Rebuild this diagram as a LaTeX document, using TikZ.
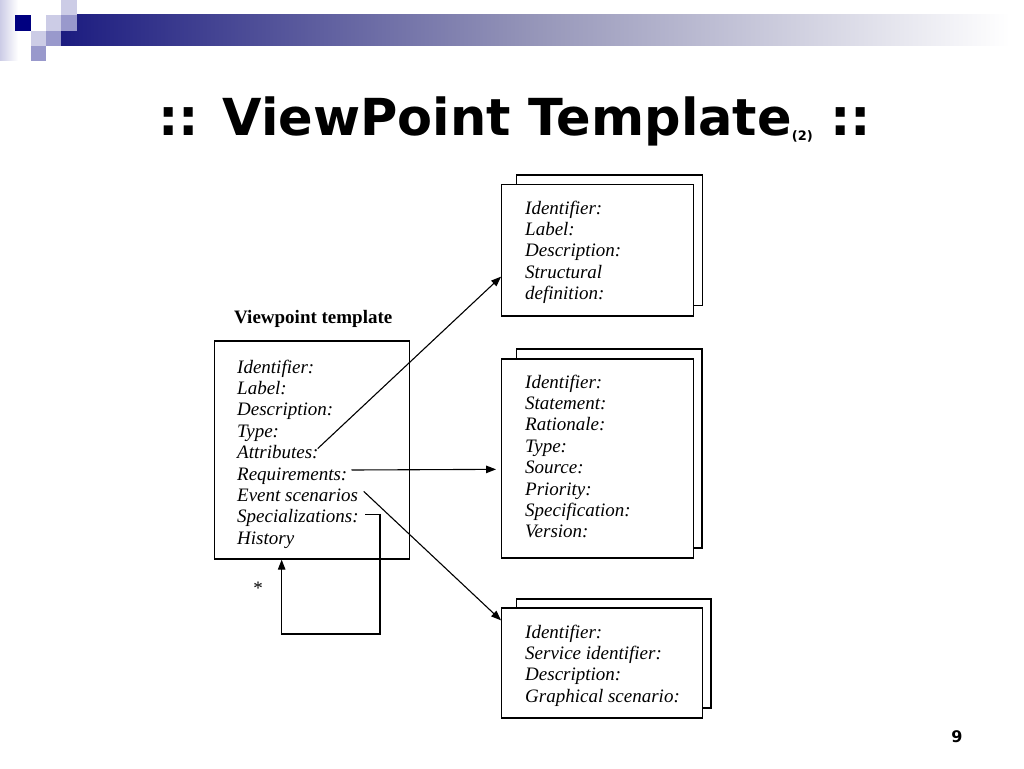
\documentclass[tikz,border=0pt]{standalone}
\usepackage{fontspec}
\setmainfont{Liberation Serif}
\newfontfamily\titlefont{DejaVu Sans}
\usetikzlibrary{arrows.meta,calc}
\definecolor{navy}{RGB}{0,0,128}
\definecolor{lav}{RGB}{204,204,230}
\definecolor{midlav}{RGB}{153,153,204}
\definecolor{barnavy}{RGB}{28,28,128}
\tikzset{
  box/.style={draw=black, line width=1.3pt, fill=white, inner sep=0pt},
  txt/.style={anchor=base west, inner sep=0pt, font=\fontsize{19}{21}\selectfont\itshape},
  arr/.style={line width=1.1pt, -{Triangle[length=10pt,width=7.5pt]}},
}
\begin{document}
\begin{tikzpicture}[x=1pt,y=-1pt]
\useasboundingbox (0,0) rectangle (1024,768);
\fill[white] (0,0) rectangle (1024,768);
% header decoration
\shade[left color=lav, right color=white] (0,0) rectangle (18,60);
\shade[left color=barnavy, right color=white, middle color={rgb,255:red,150;green,150;blue,185}] (61,15) rectangle (1010,45.7);
\fill[navy] (15,15) rectangle (30.7,30.7);
\fill[lav] (45.7,15) rectangle (61,30.7);
\fill[midlav] (61,15) rectangle (76.7,30.7);
\fill[lav] (61,0) rectangle (76.7,15);
\fill[lav] (30.7,30.7) rectangle (45.7,45.7);
\fill[midlav] (45.7,30.7) rectangle (61,45.7);
\fill[midlav] (30.7,45.7) rectangle (45.7,61);
% title
\node[anchor=base west, inner sep=0pt, font=\titlefont\bfseries\fontsize{51}{56}\selectfont] (title) at (158,135)
  {:: ViewPoint Template\raisebox{-5pt}{\fontsize{13}{14}\selectfont(2)} ::};
\node[anchor=base, inner sep=0pt, font=\titlefont\bfseries\fontsize{16}{18}\selectfont] (pnum) at (957,742) {9};
% left box
\node[anchor=base west, inner sep=0pt, font=\fontsize{19}{21}\selectfont\bfseries] (vpt) at (234,323) {Viewpoint template};
\node[box, minimum width=195pt, minimum height=218pt] (vp) at (311.8,450) {};
\foreach \t [count=\i] in {Identifier:, Label:, Description:, Type:, Attributes:, Requirements:, Event scenarios, Specializations:, History}
  \node[txt] (a\i) at (237,{373+(\i-1)*21.4}) {\t};
% box 1
\node[box, minimum width=186pt, minimum height=130.7pt] (b1) at (609.7,240.35) {};
\node[box, minimum width=192pt, minimum height=131.7pt] (f1) at (597.7,250.15) {};
\foreach \t [count=\i] in {Identifier:, Label:, Description:, Structural, definition:}
  \node[txt] (p\i) at (525,{214+(\i-1)*21.4}) {\t};
% box 2
\node[box, minimum width=185.3pt, minimum height=199pt] (b2) at (609.35,448.5) {};
\node[box, minimum width=192pt, minimum height=199pt] (f2) at (597.7,458.5) {};
\foreach \t [count=\i] in {Identifier:, Statement:, Rationale:, Type:, Source:, Priority:, Specification:, Version:}
  \node[txt] (q\i) at (525,{388+(\i-1)*21.4}) {\t};
% box 3
\node[box, minimum width=194.3pt, minimum height=109pt] (b3) at (613.85,653.5) {};
\node[box, minimum width=201pt, minimum height=110pt] (f3) at (602.2,663) {};
\foreach \t [count=\i] in {Identifier:, Service identifier:, Description:, Graphical scenario:}
  \node[txt] (r\i) at (525,{638+(\i-1)*21.4}) {\t};
% star
\node[anchor=base, inner sep=0pt, font=\fontsize{19}{21}\selectfont] (star) at (258,594) {*};
% connectors
\draw[arr] ($(a5.base east)+(-1,-10)$) -- ($(f1.north west)+(0,93)$);
\draw[arr] ($(a6.base east)+(4,-10)$) -- ($(f2.north west)+(-5,111)$);
\draw[arr] ($(a7.base east)+(5.5,-10)$) -- ($(f3.north west)+(0,13)$);
\coordinate (lpA) at ($(a8.base east)+(6.6,-8)$);
\coordinate (lpB) at (380,634);
\coordinate (lpC) at ($(vp.south west)+(68,0)$);
\draw[arr] (lpA) -| (lpB) -| (lpC);
\end{tikzpicture}
\end{document}
